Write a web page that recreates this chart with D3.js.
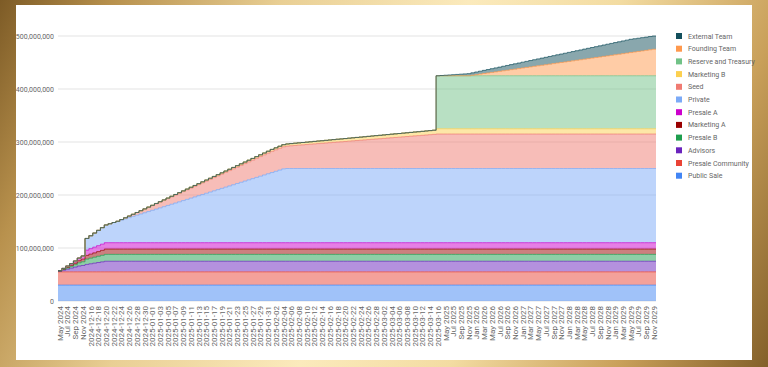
<!DOCTYPE html>
<html>
<head>
<meta charset="utf-8">
<script src="https://cdn.jsdelivr.net/npm/d3@7"></script>
<style>
  body { margin: 0; width: 768px; height: 367px; overflow: hidden;
    background: linear-gradient(115deg, #7d5b26 0%, #b8914d 12%, #e9cf94 30%, #fbeabc 50%, #f3dca2 66%, #c9a05a 84%, #83602a 100%); }
  #card { position: absolute; left: 16px; top: 5px; width: 736px; height: 355px; background: #fff; }
  svg { position: absolute; left: 0; top: 0; }
  text { font-family: Roboto, Arial, sans-serif; }
</style>
</head>
<body>
<div id="card"></div>
<svg id="chart" width="768" height="367"></svg>
<script>
// categories: monthly before TGE, daily around TGE, monthly afterwards
let categories = [
  'May 2024','Jun 2024','Jul 2024','Aug 2024','Sep 2024','Oct 2024','Nov 2024','2024-12-15',
  '2024-12-16','2024-12-17','2024-12-18','2024-12-19','2024-12-20','2024-12-21','2024-12-22','2024-12-23',
  '2024-12-24','2024-12-25','2024-12-26','2024-12-27','2024-12-28','2024-12-29','2024-12-30','2024-12-31',
  '2025-01-01','2025-01-02','2025-01-03','2025-01-04','2025-01-05','2025-01-06','2025-01-07','2025-01-08',
  '2025-01-09','2025-01-10','2025-01-11','2025-01-12','2025-01-13','2025-01-14','2025-01-15','2025-01-16',
  '2025-01-17','2025-01-18','2025-01-19','2025-01-20','2025-01-21','2025-01-22','2025-01-23','2025-01-24',
  '2025-01-25','2025-01-26','2025-01-27','2025-01-28','2025-01-29','2025-01-30','2025-01-31',
  '2025-02-01','2025-02-02','2025-02-03','2025-02-04','2025-02-05','2025-02-06','2025-02-07','2025-02-08',
  '2025-02-09','2025-02-10','2025-02-11','2025-02-12','2025-02-13','2025-02-14','2025-02-15','2025-02-16',
  '2025-02-17','2025-02-18','2025-02-19','2025-02-20','2025-02-21','2025-02-22','2025-02-23','2025-02-24',
  '2025-02-25','2025-02-26','2025-02-27','2025-02-28',
  '2025-03-01','2025-03-02','2025-03-03','2025-03-04','2025-03-05','2025-03-06','2025-03-07','2025-03-08',
  '2025-03-09','2025-03-10','2025-03-11','2025-03-12','2025-03-13','2025-03-14','2025-03-15','2025-03-16',
  'Apr 2025','May 2025','Jun 2025','Jul 2025','Aug 2025','Sep 2025','Oct 2025','Nov 2025','Dec 2025',
  'Jan 2026','Feb 2026','Mar 2026','Apr 2026','May 2026','Jun 2026','Jul 2026','Aug 2026','Sep 2026','Oct 2026','Nov 2026','Dec 2026',
  'Jan 2027','Feb 2027','Mar 2027','Apr 2027','May 2027','Jun 2027','Jul 2027','Aug 2027','Sep 2027','Oct 2027','Nov 2027','Dec 2027',
  'Jan 2028','Feb 2028','Mar 2028','Apr 2028','May 2028','Jun 2028','Jul 2028','Aug 2028','Sep 2028','Oct 2028','Nov 2028','Dec 2028',
  'Jan 2029','Feb 2029','Mar 2029','Apr 2029','May 2029','Jun 2029','Jul 2029','Aug 2029','Sep 2029','Oct 2029','Nov 2029'
];

// unlocked tokens, millions (stacked bottom -> top)
let publicSale = [
  30,30,30,30,30,30,30,30,30,30, 30,30,30,30,30,30,30,30,30,30, 30,30,30,30,30,30,30,30,30,30,
  30,30,30,30,30,30,30,30,30,30, 30,30,30,30,30,30,30,30,30,30, 30,30,30,30,30,30,30,30,30,30,
  30,30,30,30,30,30,30,30,30,30, 30,30,30,30,30,30,30,30,30,30, 30,30,30,30,30,30,30,30,30,30,
  30,30,30,30,30,30,30,30,30,30, 30,30,30,30,30,30,30,30,30,30, 30,30,30,30,30,30,30,30,30,30,
  30,30,30,30,30,30,30,30,30,30, 30,30,30,30,30,30,30,30,30,30, 30,30,30,30,30,30,30,30,30,30,
  30,30,30,30,30
];
let presaleCommunity = [
  25,25,25,25,25,25,25,25,25,25, 25,25,25,25,25,25,25,25,25,25, 25,25,25,25,25,25,25,25,25,25,
  25,25,25,25,25,25,25,25,25,25, 25,25,25,25,25,25,25,25,25,25, 25,25,25,25,25,25,25,25,25,25,
  25,25,25,25,25,25,25,25,25,25, 25,25,25,25,25,25,25,25,25,25, 25,25,25,25,25,25,25,25,25,25,
  25,25,25,25,25,25,25,25,25,25, 25,25,25,25,25,25,25,25,25,25, 25,25,25,25,25,25,25,25,25,25,
  25,25,25,25,25,25,25,25,25,25, 25,25,25,25,25,25,25,25,25,25, 25,25,25,25,25,25,25,25,25,25,
  25,25,25,25,25
];
let advisors = [
  1,3,5,7,9,11,12,14,15.2,16.4, 17.6,18.8,20,20,20,20,20,20,20,20, 20,20,20,20,20,20,20,20,20,20,
  20,20,20,20,20,20,20,20,20,20, 20,20,20,20,20,20,20,20,20,20, 20,20,20,20,20,20,20,20,20,20,
  20,20,20,20,20,20,20,20,20,20, 20,20,20,20,20,20,20,20,20,20, 20,20,20,20,20,20,20,20,20,20,
  20,20,20,20,20,20,20,20,20,20, 20,20,20,20,20,20,20,20,20,20, 20,20,20,20,20,20,20,20,20,20,
  20,20,20,20,20,20,20,20,20,20, 20,20,20,20,20,20,20,20,20,20, 20,20,20,20,20,20,20,20,20,20,
  20,20,20,20,20
];
let presaleB = [
  0.5,1.5,2.5,3.5,4.5,6,7,10,10.6,11.2, 11.8,12.4,13,13,13,13,13,13,13,13, 13,13,13,13,13,13,13,13,13,13,
  13,13,13,13,13,13,13,13,13,13, 13,13,13,13,13,13,13,13,13,13, 13,13,13,13,13,13,13,13,13,13,
  13,13,13,13,13,13,13,13,13,13, 13,13,13,13,13,13,13,13,13,13, 13,13,13,13,13,13,13,13,13,13,
  13,13,13,13,13,13,13,13,13,13, 13,13,13,13,13,13,13,13,13,13, 13,13,13,13,13,13,13,13,13,13,
  13,13,13,13,13,13,13,13,13,13, 13,13,13,13,13,13,13,13,13,13, 13,13,13,13,13,13,13,13,13,13,
  13,13,13,13,13
];
let marketingA = [
  0.5,1,1.5,2,3,4,5,7,7.6,8.2, 8.8,9.4,10,10,10,10,10,10,10,10, 10,10,10,10,10,10,10,10,10,10,
  10,10,10,10,10,10,10,10,10,10, 10,10,10,10,10,10,10,10,10,10, 10,10,10,10,10,10,10,10,10,10,
  10,10,10,10,10,10,10,10,10,10, 10,10,10,10,10,10,10,10,10,10, 10,10,10,10,10,10,10,10,10,10,
  10,10,10,10,10,10,10,10,10,10, 10,10,10,10,10,10,10,10,10,10, 10,10,10,10,10,10,10,10,10,10,
  10,10,10,10,10,10,10,10,10,10, 10,10,10,10,10,10,10,10,10,10, 10,10,10,10,10,10,10,10,10,10,
  10,10,10,10,10
];
let presaleA = [
  0.5,1,2,3,4,5,6,10,10.4,10.8, 11.2,11.6,12,12,12,12,12,12,12,12, 12,12,12,12,12,12,12,12,12,12,
  12,12,12,12,12,12,12,12,12,12, 12,12,12,12,12,12,12,12,12,12, 12,12,12,12,12,12,12,12,12,12,
  12,12,12,12,12,12,12,12,12,12, 12,12,12,12,12,12,12,12,12,12, 12,12,12,12,12,12,12,12,12,12,
  12,12,12,12,12,12,12,12,12,12, 12,12,12,12,12,12,12,12,12,12, 12,12,12,12,12,12,12,12,12,12,
  12,12,12,12,12,12,12,12,12,12, 12,12,12,12,12,12,12,12,12,12, 12,12,12,12,12,12,12,12,12,12,
  12,12,12,12,12
];
let privateRound = [
  0,0,0,0,0,0,0,22,24.3,26.6, 28.9,31.2,33.5,35.8,38.1,40.4,42.7,45,47.3,49.6,
  51.9,54.2,56.5,58.8,61.1,63.4,65.7,68,70.3,72.6, 74.9,77.2,79.5,81.8,84.1,86.4,88.7,91,93.3,95.6,
  97.9,100.2,102.5,104.8,107.1,109.4,111.7,114,116.3,118.6, 120.9,123.2,125.5,127.8,130.1,132.4,134.7,137,139.3,140,
  140,140,140,140,140,140,140,140,140,140, 140,140,140,140,140,140,140,140,140,140,
  140,140,140,140,140,140,140,140,140,140, 140,140,140,140,140,140,140,140,140,140,
  140,140,140,140,140,140,140,140,140,140, 140,140,140,140,140,140,140,140,140,140,
  140,140,140,140,140,140,140,140,140,140, 140,140,140,140,140,140,140,140,140,140,
  140,140,140,140,140,140,140,140,140,140, 140,140,140,140,140
];
let seed = [
  0,0,0,0,0,0,0,0,0,0, 0,0,0,0,0,0,1,2,3,4, 5,6,7,8,9,10,11,12,13,14,
  15,16,17,18,19,20,21,22,23,24, 25,26,27,28,29,30,31,32,33,34, 35,36,37,38,39,40,40.6,41.2,41.7,42.3,
  42.9,43.5,44.1,44.6,45.2,45.8,46.4,47,47.5,48.1, 48.7,49.3,49.9,50.4,51,51.6,52.2,52.8,53.3,53.9,
  54.5,55.1,55.7,56.2,56.8,57.4,58,58.6,59.1,59.7, 60.3,60.9,61.5,62,62.6,63.2,63.8,64.4,65,65,
  65,65,65,65,65,65,65,65,65,65, 65,65,65,65,65,65,65,65,65,65, 65,65,65,65,65,65,65,65,65,65,
  65,65,65,65,65,65,65,65,65,65, 65,65,65,65,65,65,65,65,65,65, 65,65,65,65,65
];
let marketingB = [
  0,0,0,0,0,0,0,0,0,0, 0,0,0,0,0,0,0,0,0,0, 0.1,0.2,0.3,0.4,0.5,0.6,0.7,0.8,0.9,1,
  1.1,1.2,1.3,1.4,1.5,1.6,1.7,1.8,1.9,2, 2.1,2.2,2.3,2.4,2.5,2.6,2.7,2.8,2.9,3, 3.1,3.2,3.3,3.4,3.5,3.6,3.7,3.8,3.9,4,
  4.1,4.2,4.3,4.4,4.5,4.6,4.7,4.8,4.9,5, 5.1,5.2,5.3,5.4,5.5,5.6,5.7,5.8,5.9,6, 6.1,6.2,6.3,6.4,6.5,6.6,6.7,6.8,6.9,7,
  7.1,7.2,7.3,7.4,7.5,7.6,7.7,7.8,10,10, 10,10,10,10,10,10,10,10,10,10, 10,10,10,10,10,10,10,10,10,10,
  10,10,10,10,10,10,10,10,10,10, 10,10,10,10,10,10,10,10,10,10, 10,10,10,10,10,10,10,10,10,10,
  10,10,10,10,10
];
let reserve = [
  0,0,0,0,0,0,0,0,0,0, 0,0,0,0,0,0,0,0,0,0, 0,0,0,0,0,0,0,0,0,0,
  0,0,0,0,0,0,0,0,0,0, 0,0,0,0,0,0,0,0,0,0, 0,0,0,0,0,0,0,0,0,0,
  0,0,0,0,0,0,0,0,0,0, 0,0,0,0,0,0,0,0,0,0, 0,0,0,0,0,0,0,0,0,0,
  0,0,0,0,0,0,0,0,100,100, 100,100,100,100,100,100,100,100,100,100, 100,100,100,100,100,100,100,100,100,100,
  100,100,100,100,100,100,100,100,100,100, 100,100,100,100,100,100,100,100,100,100, 100,100,100,100,100,100,100,100,100,100,
  100,100,100,100,100
];
let foundingTeam = [
  0,0,0,0,0,0,0,0,0,0, 0,0,0,0,0,0,0,0,0,0, 0,0,0,0,0,0,0,0,0,0,
  0,0,0,0,0,0,0,0,0,0, 0,0,0,0,0,0,0,0,0,0, 0,0,0,0,0,0,0,0,0,0,
  0,0,0,0,0,0,0,0,0,0, 0,0,0,0,0,0,0,0,0,0, 0,0,0,0,0,0,0,0,0,0,
  0,0,0,0,0,0,0,0,0,0, 0,0,0,0,0,0,0,1,2.1,3.1,
  4.2,5.2,6.3,7.3,8.3,9.4,10.4,11.5,12.5,13.5, 14.6,15.6,16.7,17.7,18.8,19.8,20.8,21.9,22.9,24,
  25,26,27.1,28.1,29.2,30.2,31.3,32.3,33.3,34.4, 35.4,36.5,37.5,38.5,39.6,40.6,41.7,42.7,43.8,44.8,
  45.8,46.9,47.9,49,50
];
let externalTeam = [
  0,0,0,0,0,0,0,0,0,0, 0,0,0,0,0,0,0,0,0,0, 0,0,0,0,0,0,0,0,0,0,
  0,0,0,0,0,0,0,0,0,0, 0,0,0,0,0,0,0,0,0,0, 0,0,0,0,0,0,0,0,0,0,
  0,0,0,0,0,0,0,0,0,0, 0,0,0,0,0,0,0,0,0,0, 0,0,0,0,0,0,0,0,0,0,
  0,0,0,0,0,0,0,0,0,0.5, 1,1.5,2,2.5,3,3.5,4,4.5,5,5.5,
  6,6.5,7,7.5,8,8.5,9,9.5,10,10.5, 11,11.5,12,12.5,13,13.5,14,14.5,15,15.5,
  16,16.5,17,17.5,18,18.5,19,19.5,20,20.5, 21,21.5,22,22.5,23,23.5,24,24.5,25,25,
  25,25,25,25,25
];

let seriesNames = ['Public Sale', 'Presale Community', 'Advisors', 'Presale B', 'Marketing A', 'Presale A',
                   'Private', 'Seed', 'Marketing B', 'Reserve and Treasury', 'Founding Team', 'External Team'];
let seriesValues = [publicSale, presaleCommunity, advisors, presaleB, marketingA, presaleA,
                    privateRound, seed, marketingB, reserve, foundingTeam, externalTeam];
let seriesColors = ['#4285f4', '#ea4335', '#6a23bd', '#1e9e4e', '#990000', '#cc00cc',
                    '#7baaf7', '#f07b72', '#fcd04f', '#71c287', '#ff994d', '#134f5c'];

let yTicks = [0, 100000000, 200000000, 300000000, 400000000, 500000000];

seriesValues.forEach((arr, s) => {
    if (arr.length !== categories.length) console.error(seriesNames[s], arr.length);
});

let svg = d3.select('#chart');

let plotLeft = 58, plotRight = 656, plotTop = 36, plotBottom = 301;

let xScale = d3.scaleBand()
                .domain(categories)
                .range([plotLeft, plotRight]);

let yScale = d3.scaleLinear()
                .domain([0, 500000000])
                .range([plotBottom, plotTop]);

let rows = categories.map((c, i) => {
    let row = { category: c };
    seriesNames.forEach((name, s) => {
        row[name] = seriesValues[s][i] * 1e6;
    });
    return row;
});

let layers = d3.stack().keys(seriesNames)(rows);

// gridlines
svg.append('g')
    .selectAll('line')
    .data(yTicks)
    .enter()
    .append('line')
    .attr('x1', plotLeft)
    .attr('x2', plotRight)
    .attr('y1', (d) => yScale(d))
    .attr('y2', (d) => yScale(d))
    .attr('stroke', '#e3e3e3')
    .attr('stroke-width', 1);

// step points: each category held over its band, closed at the right edge
let stepPoints = (layer) => {
    let pts = layer.map((d, i) => ({ x: xScale(categories[i]), y0: d[0], y1: d[1] }));
    let last = layer[layer.length - 1];
    pts.push({ x: xScale.range()[1], y0: last[0], y1: last[1] });
    return pts;
};

let area = d3.area()
                .x((d) => d.x)
                .y0((d) => yScale(d.y0))
                .y1((d) => yScale(d.y1))
                .curve(d3.curveStepAfter);

let line = d3.line()
                .x((d) => d.x)
                .y((d) => yScale(d.y1))
                .curve(d3.curveStepAfter);

svg.append('g')
    .selectAll('path')
    .data(layers)
    .enter()
    .append('path')
    .attr('d', (layer) => area(stepPoints(layer)))
    .attr('fill', (layer, i) => seriesColors[i])
    .attr('fill-opacity', 0.5)
    .attr('stroke', 'none');

svg.append('g')
    .selectAll('path')
    .data(layers)
    .enter()
    .append('path')
    .attr('d', (layer) => line(stepPoints(layer)))
    .attr('fill', 'none')
    .attr('stroke', (layer, i) => seriesColors[i])
    .attr('stroke-opacity', 0.7)
    .attr('stroke-width', 1);

// y axis
let yAxis = d3.axisLeft(yScale)
                .tickValues(yTicks)
                .tickFormat(d3.format(','))
                .tickSize(0)
                .tickPadding(4);

let gy = svg.append('g')
            .attr('transform', `translate(${plotLeft}, 0)`)
            .call(yAxis);
gy.select('.domain').remove();
gy.selectAll('text')
    .style('font-family', 'Roboto, Arial, sans-serif')
    .style('font-size', '7px')
    .attr('fill', '#666');

// x axis, every other category labelled
let xAxis = d3.axisBottom(xScale)
                .tickValues(categories.filter((c, i) => i % 2 === 0))
                .tickSize(0)
                .tickPadding(0);

let gx = svg.append('g')
            .attr('transform', `translate(0, ${plotBottom})`)
            .call(xAxis);
gx.select('.domain').remove();
gx.selectAll('text')
    .attr('transform', 'rotate(-90)')
    .attr('text-anchor', 'end')
    .attr('x', -5)
    .attr('y', 0)
    .attr('dy', '0.35em')
    .style('font-family', 'Roboto, Arial, sans-serif')
    .style('font-size', '8px')
    .attr('fill', '#666');

// legend, top series first
let legendData = seriesNames.map((name, i) => ({ name: name, color: seriesColors[i] })).reverse();

let legendGroup = svg.append('g')
                    .selectAll('g')
                    .data(legendData)
                    .enter()
                    .append('g')
                    .attr('transform', (d, i) => `translate(676, ${33 + i * 12.7})`);

legendGroup.append('rect')
            .attr('width', 6)
            .attr('height', 6)
            .attr('fill', (d) => d.color);

legendGroup.append('text')
            .text((d) => d.name)
            .attr('x', 12)
            .attr('y', 5.5)
            .style('font-size', '7px')
            .attr('fill', '#666');
</script>
</body>
</html>
